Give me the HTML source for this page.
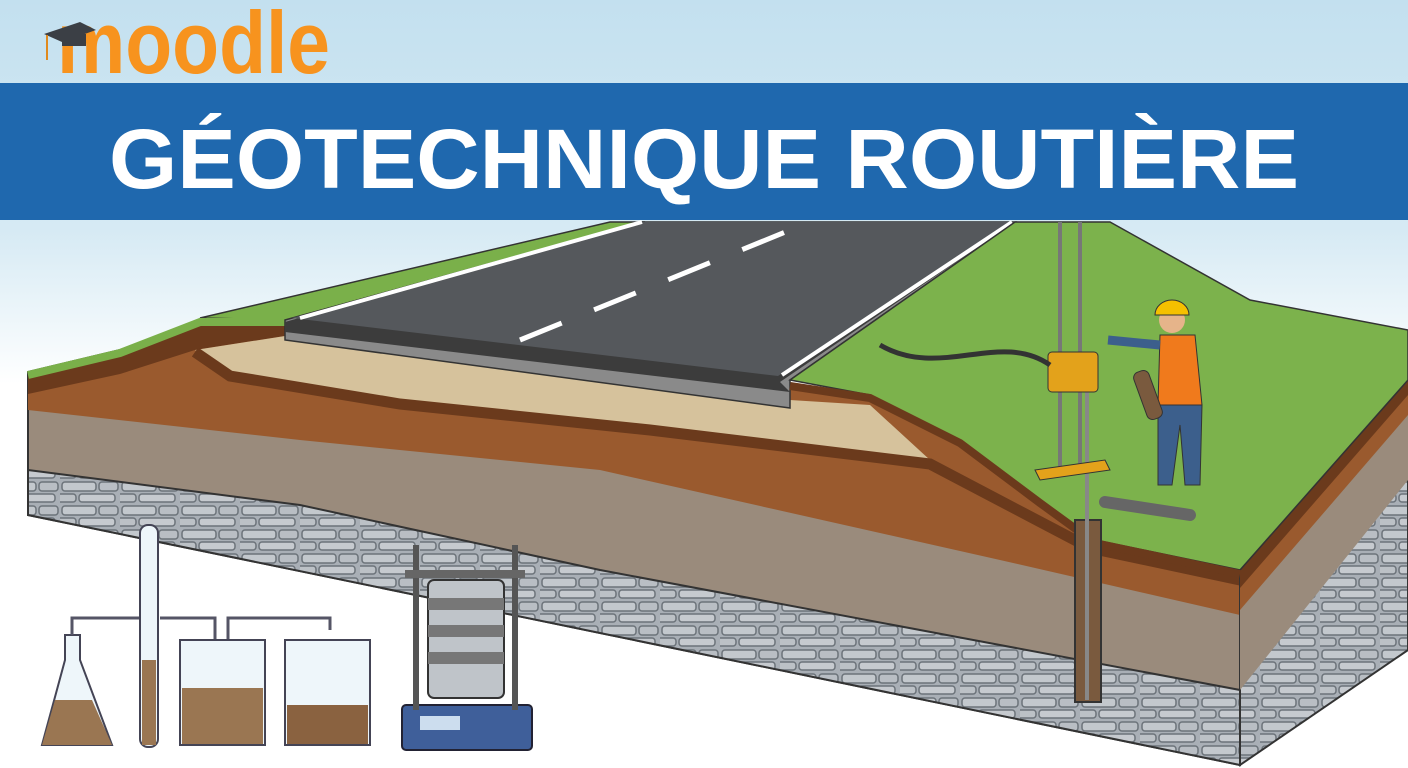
<!DOCTYPE html>
<html><head><meta charset="utf-8"><style>html,body{margin:0;padding:0;background:#fff}svg{display:block}</style></head>
<body>
<svg width="1408" height="768" viewBox="0 0 1408 768" xmlns="http://www.w3.org/2000/svg">
<defs>
<linearGradient id="sky" x1="0" y1="0" x2="0" y2="1">
<stop offset="0" stop-color="#c3e0ef"/><stop offset="0.3" stop-color="#d6eaf4"/><stop offset="0.5" stop-color="#ffffff"/><stop offset="1" stop-color="#ffffff"/></linearGradient>
<pattern id="stone" width="60" height="24" patternUnits="userSpaceOnUse">
<rect width="60" height="24" fill="#a9afb6"/>
<rect x="2" y="2" width="34" height="9" rx="3" fill="#c3c8cd" stroke="#6c737a" stroke-width="1.5"/>
<rect x="39" y="2" width="19" height="9" rx="3" fill="#b9bec4" stroke="#6c737a" stroke-width="1.5"/>
<rect x="-8" y="14" width="24" height="8" rx="3" fill="#bcc1c6" stroke="#6c737a" stroke-width="1.5"/>
<rect x="19" y="14" width="36" height="8" rx="3" fill="#c6cacf" stroke="#6c737a" stroke-width="1.5"/>
</pattern>
</defs>
<rect width="1408" height="768" fill="url(#sky)"/>
<!-- logo -->
<text x="57" y="73" font-family="Liberation Sans, sans-serif" font-weight="bold" font-size="88" fill="#f7931e" textLength="273" lengthAdjust="spacingAndGlyphs">moodle</text>
<polygon points="44,34 80,22 96,30 62,42" fill="#3b3f45"/>
<rect x="62" y="34" width="24" height="12" fill="#3b3f45"/>
<line x1="47" y1="35" x2="47" y2="60" stroke="#e08a1e" stroke-width="2"/>
<!-- banner -->
<rect x="0" y="83" width="1408" height="137" fill="#1f68ae"/>
<text x="704" y="188" text-anchor="middle" font-family="Liberation Sans, sans-serif" font-weight="bold" font-size="84" fill="#fff" textLength="1190" lengthAdjust="spacingAndGlyphs">GÉOTECHNIQUE ROUTIÈRE</text>

<!-- front face: base gray-brown -->
<polygon points="28,372 120,350 200,320 285,322 790,385 870,395 960,440 1090,540 1240,570 1240,765 28,515" fill="#9a8b7c" stroke="#333" stroke-width="2"/>
<!-- orange-brown -->
<polygon points="28,372 120,350 200,320 285,322 790,385 870,395 960,440 1090,540 1240,570 1240,615 1000,560 600,470 300,440 28,410" fill="#9a5a2e"/>
<!-- dark brown embankment -->
<polygon points="28,372 120,350 200,320 285,322 285,336 195,350 120,374 28,394" fill="#6b3a1c"/>
<!-- sand -->
<polygon points="195,350 285,336 790,400 870,405 930,460 650,425 400,400 230,374" fill="#d6c29c"/>
<!-- dark brown band under sand -->
<polyline points="195,352 230,376 400,404 650,430 930,464 1090,548 1240,580" fill="none" stroke="#6b3a1c" stroke-width="11"/>
<!-- stone -->
<polygon points="28,470 300,505 600,570 1000,645 1240,690 1240,765 28,515" fill="url(#stone)" stroke="#333" stroke-width="2"/>
<!-- left green -->
<polygon points="200,318 610,222 645,222 290,320" fill="#7ab04a" stroke="#333" stroke-width="1.5"/>
<polyline points="28,375 120,353 200,322 288,322" fill="none" stroke="#7ab04a" stroke-width="8"/>
<!-- right face -->
<polygon points="1240,570 1408,380 1408,650 1240,765" fill="url(#stone)" stroke="#333" stroke-width="2"/>
<polygon points="1240,570 1408,380 1408,480 1240,690" fill="#9a8b7c"/>
<polygon points="1240,570 1408,380 1408,415 1240,610" fill="#9a5a2e"/>
<polygon points="1240,570 1408,380 1408,395 1240,588" fill="#6b3a1c"/>

<!-- road base -->
<polygon points="285,320 640,222 1015,222 790,380 790,408 285,340" fill="#8a8a8a" stroke="#333" stroke-width="1.5"/>
<polygon points="285,322 640,222 1015,222 780,382 790,392 285,332" fill="#3c3c3c"/>
<polygon points="292,318 640,222 1010,222 778,376" fill="#55585c"/>
<line x1="300" y1="318" x2="642" y2="222" stroke="#fff" stroke-width="4"/>
<line x1="782" y1="375" x2="1012" y2="222" stroke="#fff" stroke-width="4"/>
<line x1="520" y1="340" x2="810" y2="222" stroke="#fff" stroke-width="5" stroke-dasharray="45,35"/>
<!-- right green -->
<polygon points="790,380 1015,222 1110,222 1250,300 1408,330 1408,380 1240,570 1095,540 1040,500 960,440 870,395" fill="#7cb24c" stroke="#333" stroke-width="1.5"/>
<polyline points="790,386 870,398 960,443 1040,503 1095,543 1240,574" fill="none" stroke="#6b3a1c" stroke-width="8"/>
<!-- drill rig -->
<rect x="1058" y="222" width="4" height="245" fill="#777"/>
<rect x="1078" y="222" width="4" height="245" fill="#777"/>
<rect x="1075" y="520" width="26" height="182" fill="#7a5a3e" stroke="#333" stroke-width="2"/>
<rect x="1085" y="380" width="4" height="320" fill="#888"/>
<rect x="1048" y="352" width="50" height="40" rx="4" fill="#e3a21b" stroke="#333"/>
<path d="M1050 365 C 1000 330, 940 380, 880 345" stroke="#333" stroke-width="5" fill="none"/>
<polygon points="1035,470 1105,460 1110,470 1040,480" fill="#e3a21b" stroke="#333"/>
<line x1="1105" y1="502" x2="1190" y2="515" stroke="#666" stroke-width="12" stroke-linecap="round"/>
<!-- worker -->
<circle cx="1172" cy="320" r="13" fill="#e6b48a"/>
<path d="M1155 315 a17 15 0 0 1 34 0 z" fill="#f5c000" stroke="#333"/>
<polygon points="1160,335 1195,335 1202,405 1158,405" fill="#f07a1c" stroke="#333"/>
<polygon points="1158,405 1202,405 1200,485 1185,485 1180,425 1172,485 1158,485" fill="#3c5f8c" stroke="#333"/>
<line x1="1160" y1="345" x2="1108" y2="340" stroke="#3c5f8c" stroke-width="9"/>
<rect x="1140" y="370" width="16" height="50" rx="6" fill="#7a5a3e" transform="rotate(-20 1148 395)" stroke="#333"/>
<!-- lab: flask -->
<polygon points="65,635 80,635 80,660 112,745 42,745 65,660" fill="#eef6fa" stroke="#445" stroke-width="2"/>
<polygon points="55,700 92,700 112,745 42,745" fill="#9a7652"/>
<path d="M72 635 V618 H148 M160 618 H215 V655 M228 655 V618 H330 V630" stroke="#556" stroke-width="3" fill="none"/>
<rect x="140" y="525" width="18" height="222" rx="8" fill="#eef6fa" stroke="#445" stroke-width="2"/>
<rect x="142" y="660" width="14" height="85" fill="#9a7652"/>
<path d="M180 640 h85 v105 h-85 z" fill="#eef6fa" stroke="#445" stroke-width="2"/>
<rect x="182" y="688" width="81" height="56" fill="#9a7652"/>
<path d="M285 640 h85 v105 h-85 z" fill="#eef6fa" stroke="#445" stroke-width="2"/>
<rect x="287" y="705" width="81" height="39" fill="#8a6240"/>
<!-- sieve shaker -->
<rect x="402" y="705" width="130" height="45" rx="4" fill="#3f5f9a" stroke="#223" stroke-width="2"/>
<rect x="420" y="716" width="40" height="14" fill="#cde"/>
<rect x="413" y="545" width="6" height="165" fill="#555"/>
<rect x="512" y="545" width="6" height="165" fill="#555"/>
<rect x="405" y="570" width="120" height="8" fill="#666"/>
<rect x="428" y="580" width="76" height="118" rx="6" fill="#bfc4c9" stroke="#333" stroke-width="2"/>
<rect x="428" y="598" width="76" height="12" fill="#777"/>
<rect x="428" y="625" width="76" height="12" fill="#777"/>
<rect x="428" y="652" width="76" height="12" fill="#777"/>
</svg>
</body></html>
